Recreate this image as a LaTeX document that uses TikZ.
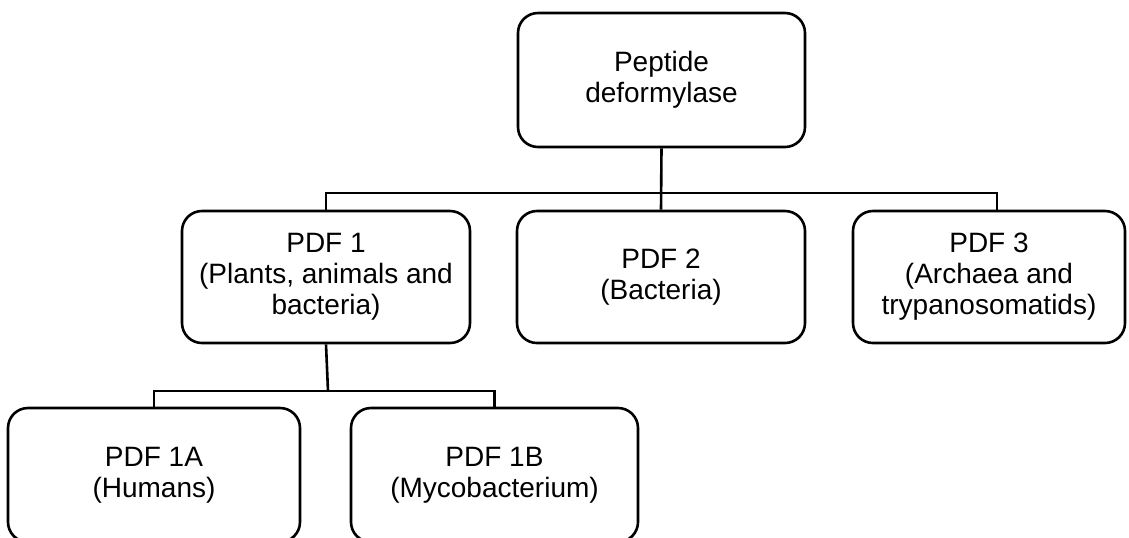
\documentclass[tikz,border=0pt]{standalone}
\usepackage{fontspec}
\setmainfont{Liberation Sans}
\usetikzlibrary{positioning}
\tikzset{
  enzbox/.style={rectangle, draw=black, rounded corners=10pt,
    line width=1.3pt, align=center, inner sep=0pt,
    font=\fontsize{14}{15.5}\selectfont},
  line/.style={line width=1.3pt, color=black}
}

\begin{document}
\begin{tikzpicture}[x=0.5pt, y=-0.5pt]
  \useasboundingbox (0,0) rectangle (1129,537);
  \clip (0,0) rectangle (1129,537);

  % root
  \node[enzbox, minimum width=143.5pt, minimum height=67pt] (pdf) at (661.5,80) {Peptide\\deformylase};

  % classes
  \node[enzbox, minimum width=144pt, minimum height=66pt] (pdfone) at (326,277) {PDF 1\\(Plants, animals and\\bacteria)};
  \node[enzbox, minimum width=144pt, minimum height=66pt] (pdftwo) at (661,277) {PDF 2\\(Bacteria)};
  \node[enzbox, minimum width=136pt, minimum height=66pt] (pdfthree) at (989,277) {PDF 3\\(Archaea and\\trypanosomatids)};

  % subclasses of PDF 1
  \node[enzbox, minimum width=146pt, minimum height=67pt] (pdfonea) at (154,475) {PDF 1A\\(Humans)};
  \node[enzbox, minimum width=143.5pt, minimum height=67pt] (pdfoneb) at (494.5,475) {PDF 1B\\(Mycobacterium)};

  \coordinate (barup) at (661,193);
  \coordinate (barlow) at (328,391);

  \draw[line] (pdf.south) -- (pdftwo.north);
  \draw[line] (pdfone.north) |- (barup) -| ([xshift=4pt]pdfthree.north);
  \draw[line] (pdfone.south) -- (barlow);
  \draw[line] (pdfonea.north) |- (barlow) -| (pdfoneb.north);
\end{tikzpicture}
\end{document}
